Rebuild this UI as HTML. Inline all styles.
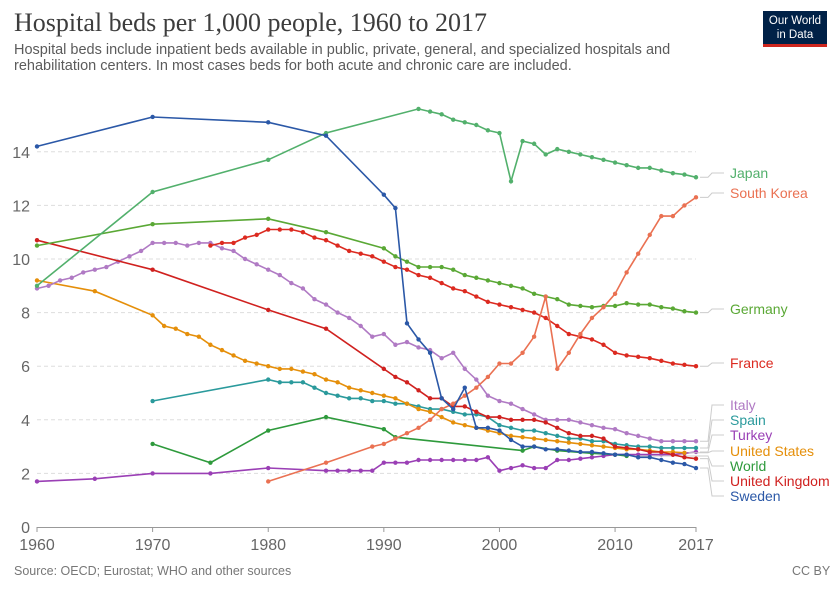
<!DOCTYPE html>
<html><head><meta charset="utf-8"><style>
body{margin:0;background:#fff;font-family:"Liberation Sans",sans-serif;}
#wrap{position:relative;width:840px;height:593px;overflow:hidden}
.t{position:absolute;margin:0}
</style></head><body><div id="wrap">
<div class="t" style="left:14px;top:8px;font-family:'Liberation Serif',serif;font-size:26px;color:#3d3d3d">Hospital beds per 1,000 people, 1960 to 2017</div>
<div class="t" style="left:14px;top:42px;font-size:14.5px;color:#5b5b5b;line-height:16px;width:700px">Hospital beds include inpatient beds available in public, private, general, and specialized hospitals and rehabilitation centers. In most cases beds for both acute and chronic care are included.</div>
<div class="t" style="left:763px;top:11px;width:64px;height:36px;background:#002147;color:#fff;font-size:11.5px;line-height:14px;text-align:center;padding-top:3px;box-sizing:border-box;border-bottom:3px solid #ce261e">Our World<br>in Data</div>
<div class="t" style="left:14px;top:564px;font-size:12.5px;color:#777">Source: OECD; Eurostat; WHO and other sources</div>
<div class="t" style="left:792px;top:564px;font-size:12.5px;color:#777">CC BY</div>
<svg id="svg" width="840" height="593" style="position:absolute;left:0;top:0"></svg>
</div>
<script>
const yTicks=[0,2,4,6,8,10,12,14];
const xTicks=[1960,1970,1980,1990,2000,2010,2017];
function R(a,b){const r=[];for(let i=a;i<=b;i++)r.push(i);return r;}
const swedenYears=[1960,1970,1980,1985,1990].concat(R(1991,2017));
const swedenVals=[14.2,15.3,15.1,14.6,12.4,11.9,7.6,7.0,6.5,4.8,4.4,5.2,3.7,3.7,3.6,3.25,3.0,3.0,2.9,2.9,2.85,2.8,2.8,2.75,2.7,2.7,2.6,2.6,2.5,2.4,2.35,2.2];
const japanYears=[1960,1970,1980,1985].concat(R(1993,2017));
const japanVals=[9.0,12.5,13.7,14.7,15.6,15.5,15.4,15.2,15.1,15.0,14.8,14.7,12.9,14.4,14.3,13.9,14.1,14.0,13.9,13.8,13.7,13.6,13.5,13.4,13.4,13.3,13.2,13.15,13.05];
const germanyYears=[1960,1970,1980,1985].concat(R(1990,2017));
const germanyVals=[10.5,11.3,11.5,11.0,10.4,10.1,9.9,9.7,9.7,9.7,9.6,9.4,9.3,9.2,9.1,9.0,8.9,8.7,8.6,8.5,8.3,8.25,8.2,8.25,8.25,8.35,8.3,8.3,8.2,8.15,8.05,8.0];
const franceYears=R(1975,2017);
const franceVals=[10.5,10.6,10.6,10.8,10.9,11.1,11.1,11.1,11.0,10.8,10.7,10.5,10.3,10.2,10.1,9.9,9.7,9.6,9.4,9.3,9.1,8.9,8.8,8.6,8.4,8.3,8.2,8.1,8.0,7.8,7.5,7.2,7.1,7.0,6.8,6.5,6.4,6.35,6.3,6.2,6.1,6.05,6.0];
const ukYears=[1960,1970,1980,1985].concat(R(1990,2017));
const ukVals=[10.7,9.6,8.1,7.4,5.9,5.6,5.4,5.1,4.8,4.8,4.5,4.5,4.3,4.1,4.1,4.0,4.0,4.0,3.9,3.7,3.5,3.4,3.4,3.3,3.0,2.95,2.9,2.8,2.8,2.7,2.6,2.55];
const italyYears=R(1960,2017);
const italyVals=[8.9,9.0,9.2,9.3,9.5,9.6,9.7,9.9,10.1,10.3,10.6,10.6,10.6,10.5,10.6,10.6,10.4,10.3,10.0,9.8,9.6,9.4,9.1,8.9,8.5,8.3,8.0,7.8,7.5,7.1,7.2,6.8,6.9,6.7,6.6,6.3,6.5,5.9,5.5,4.9,4.7,4.6,4.4,4.2,4.0,4.0,4.0,3.9,3.8,3.7,3.65,3.5,3.4,3.3,3.2,3.2,3.2,3.2];
const usYears=[1960,1965].concat(R(1970,2016));
const usVals=[9.2,8.8,7.9,7.5,7.4,7.2,7.1,6.8,6.6,6.4,6.2,6.1,6.0,5.9,5.9,5.8,5.7,5.5,5.4,5.2,5.1,5.0,4.9,4.8,4.6,4.4,4.3,4.1,3.9,3.8,3.7,3.6,3.5,3.4,3.35,3.3,3.25,3.2,3.15,3.1,3.05,3.0,2.95,2.9,2.9,2.85,2.8,2.8,2.77];
const spainYears=[1970].concat(R(1980,2017));
const spainVals=[4.7,5.5,5.4,5.4,5.4,5.2,5.0,4.9,4.8,4.8,4.7,4.7,4.6,4.6,4.5,4.4,4.4,4.3,4.2,4.2,4.1,3.8,3.7,3.6,3.6,3.5,3.4,3.3,3.3,3.2,3.2,3.1,3.05,3.0,3.0,2.95,2.95,2.95,2.95];
const worldYears=[1970,1975,1980,1985,1990,1991,2002,2003,2005,2008,2010,2011];
const worldVals=[3.1,2.4,3.6,4.1,3.65,3.35,2.85,3.0,2.85,2.75,2.7,2.65];
const turkeyYears=[1960,1965,1970,1975,1980].concat(R(1985,2017));
const turkeyVals=[1.7,1.8,2.0,2.0,2.2,2.1,2.1,2.1,2.1,2.1,2.4,2.4,2.4,2.5,2.5,2.5,2.5,2.5,2.5,2.6,2.1,2.2,2.3,2.2,2.2,2.5,2.5,2.55,2.6,2.65,2.7,2.7,2.7,2.7,2.7,2.7,2.75,2.8];
const koreaYears=[1980,1985].concat(R(1989,2017));
const koreaVals=[1.7,2.4,3.0,3.1,3.3,3.5,3.7,4.0,4.4,4.6,4.9,5.2,5.6,6.1,6.1,6.5,7.1,8.6,5.9,6.5,7.2,7.8,8.2,8.7,9.5,10.2,10.9,11.6,11.6,12.0,12.3];
const series=[
 ["Turkey",turkeyYears,turkeyVals,"#9a3fb5",439],
 ["World",worldYears,worldVals,"#2e9a3c",470],
 ["Spain",spainYears,spainVals,"#2a9a9c",424],
 ["United States",usYears,usVals,"#e58f0a",455],
 ["Italy",italyYears,italyVals,"#b07ac4",409],
 ["United Kingdom",ukYears,ukVals,"#d0211f",485],
 ["France",franceYears,franceVals,"#dc2a20",367],
 ["Germany",germanyYears,germanyVals,"#5aa835",313],
 ["South Korea",koreaYears,koreaVals,"#ea7152",197],
 ["Japan",japanYears,japanVals,"#52b06c",177],
 ["Sweden",swedenYears,swedenVals,"#2b58a7",500]
];
const X=y=>37+(y-1960)*(659/57);
const Y=v=>527-v*26.8;
const svg=document.getElementById('svg');const NS="http://www.w3.org/2000/svg";
function mk(t,a,p){const e=document.createElementNS(NS,t);for(const k in a)e.setAttribute(k,a[k]);(p||svg).appendChild(e);return e;}
yTicks.forEach(v=>{
 if(v>0){const l=mk('line',{x1:37,x2:696,y1:Y(v),y2:Y(v),stroke:'#ddd','stroke-dasharray':'4,3'});
 }
 const t=mk('text',{x:30,y:Y(v)+6,'text-anchor':'end','font-size':'16',fill:'#666','font-family':'Liberation Sans'});t.textContent=v;
 
});
const ax=mk('line',{x1:37,x2:696,y1:527.5,y2:527.5,stroke:'#999'});

xTicks.forEach(v=>{
 mk('line',{x1:X(v),x2:X(v),y1:527,y2:532,stroke:'#999'});
 const t=mk('text',{x:X(v),y:550,'text-anchor':'middle','font-size':'16',fill:'#666','font-family':'Liberation Sans'});t.textContent=v;
 
});
series.forEach(s=>{
 const [name,yrs,vals,col,ly]=s;
 const g=mk('g',{});
 
 
 const pts=yrs.map((y,i)=>X(y).toFixed(1)+','+Y(vals[i]).toFixed(1)).join(' ');
 mk('polyline',{points:pts,fill:'none',stroke:col,'stroke-width':1.6},g);
 yrs.forEach((y,i)=>mk('circle',{cx:X(y),cy:Y(vals[i]),r:2.2,fill:col},g));
 const ey=Y(vals[vals.length-1]),ex=X(yrs[yrs.length-1]);
 mk('polyline',{points:`${ex+4},${ey} 708,${ey} 712,${ly-4} 724,${ly-4}`,fill:'none',stroke:'#ccc','stroke-width':1},g);
 const t=mk('text',{x:730,y:ly+1,'font-size':'14',fill:col,'font-family':'Liberation Sans'},g);t.textContent=name;
 
});
</script></body></html>
